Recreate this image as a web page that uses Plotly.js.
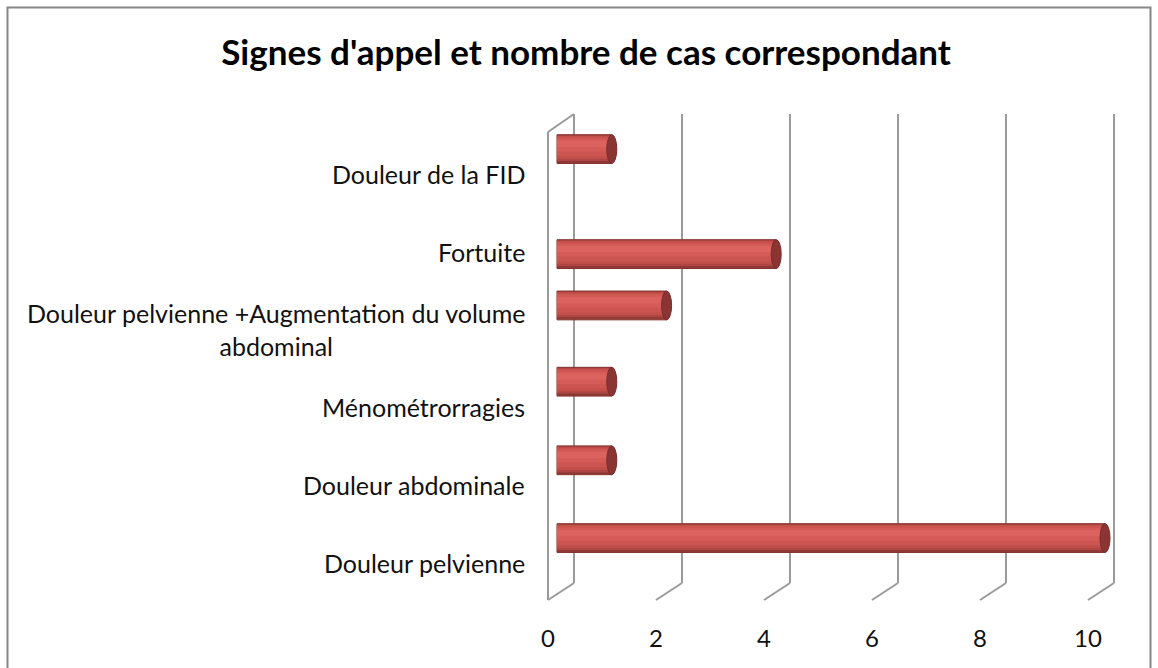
<!DOCTYPE html>
<html>
<head>
<meta charset="utf-8">
<script src="https://cdn.plot.ly/plotly-3.0.1.min.js"></script>
<style>html,body{margin:0;padding:0;background:#fff;}#chart{width:1158px;height:668px;}</style>
</head>
<body>
<div id="chart"></div>
<script>
// ---- data (bottom to top) ----
const categories = [
  "Douleur pelvienne",
  "Douleur abdominale",
  "Ménométrorragies",
  "Douleur pelvienne +Augmentation du volume<br>abdominal",
  "Fortuite",
  "Douleur de la FID"
];
const cases = [10, 1, 1, 2, 4, 1];
const xTicks = [0, 2, 4, 6, 8, 10];
const chartTitle = "Signes d'appel et nombre de cas correspondant";

// ---- style ----
const FONT = "Lato, 'Open Sans', sans-serif";
const barShift = [0.32, 0.32, 0.33, 0.31, -0.03, 0.32]; // perspective offset of each bar from its label
const W = 590, H = 485; // plot area pixel size
const idx = categories.map((c, i) => i);

function layer(width, dy, color, lineColor) {
  return {
    type: 'bar', orientation: 'h',
    x: cases, y: idx,
    width: width,
    offset: barShift.map(s => s + dy - width / 2),
    marker: {color: color, line: {width: lineColor ? 1 : 0, color: lineColor || color}},
    hoverinfo: 'skip', showlegend: false
  };
}

const traces = [
  layer(0.37, 0, '#8f3835', '#86332f'),
  layer(0.33, 0.012, '#b04643'),
  layer(0.29, 0.022, '#c34f4b'),
  layer(0.24, 0.032, '#cd5551'),
  layer(0.16, 0.05, '#d45b57'),
  layer(0.08, 0.065, '#db625e'),
  // invisible trace to activate label axis
  {type: 'scatter', x: xTicks, y: xTicks.map(() => 0), xaxis: 'x2', mode: 'none', hoverinfo: 'skip', showlegend: false}
];

const shapes = [];
// outer chart border
shapes.push({type: 'rect', xref: 'paper', yref: 'paper',
  x0: (7.5 - 540) / W, x1: (1150.5 - 540) / W, y0: (600 - 700) / H, y1: (600 - 7.5) / H,
  line: {color: '#868686', width: 2}, fillcolor: 'rgba(0,0,0,0)', layer: 'below'});
const yFloorBack = (600 - 583) / H, yTop = (600 - 114) / H, yLeftTop = (600 - 132) / H;
// left wall
shapes.push({type: 'line', xref: 'x2', yref: 'paper', x0: 0, x1: 0, y0: 0, y1: yLeftTop,
  line: {color: '#9a9a9a', width: 2}, layer: 'below'});
shapes.push({type: 'line', xref: 'x2', xsizemode: 'pixel', xanchor: 0, yref: 'paper', x0: 0, x1: 26, y0: yLeftTop, y1: yTop,
  line: {color: '#9a9a9a', width: 2}, layer: 'below'});
// back wall gridlines + floor diagonals
xTicks.forEach(v => {
  shapes.push({type: 'line', xref: 'x2', xsizemode: 'pixel', xanchor: v, yref: 'paper', x0: 26, x1: 26, y0: yFloorBack, y1: yTop,
    line: {color: '#9a9a9a', width: 2}, layer: 'below'});
  shapes.push({type: 'line', xref: 'x2', xsizemode: 'pixel', xanchor: v, yref: 'paper', x0: 0, x1: 26, y0: 0, y1: yFloorBack,
    line: {color: '#9a9a9a', width: 2}, layer: 'below'});
});
// cylinder end caps
cases.forEach((v, i) => {
  shapes.push({type: 'circle', xref: 'x', yref: 'y', xsizemode: 'pixel', xanchor: v,
    x0: -5, x1: 5, y0: i + barShift[i] - 0.185, y1: i + barShift[i] + 0.185,
    fillcolor: '#8a3533', line: {color: '#7a2c2a', width: 1}, layer: 'above'});
});

// category labels (right-aligned block, centred lines)
const annotations = categories.map((c, i) => ({
  xref: 'paper', yref: 'y', x: 0, y: i, xshift: -13,
  xanchor: 'right', yanchor: 'middle', align: 'center',
  text: c, showarrow: false,
  font: {family: FONT, size: 25, color: '#111'}
}));

const layout = {
  width: 1158, height: 668,
  margin: {l: 540, r: 28, t: 115, b: 68, pad: 0},
  paper_bgcolor: '#fff', plot_bgcolor: 'rgba(0,0,0,0)',
  barmode: 'overlay',
  title: {text: '<b>' + chartTitle + '</b>', font: {family: FONT, size: 35, color: '#000'},
    x: 586 / 1158, xref: 'container', xanchor: 'center', y: 1 - 53 / 668, yref: 'container', yanchor: 'middle'},
  xaxis: {range: [-0.31, 10.456], showgrid: false, zeroline: false, showline: false, showticklabels: false, fixedrange: true},
  xaxis2: {overlaying: 'x', side: 'bottom', anchor: 'y', range: [-0.148, 10.778], tickvals: xTicks,
    showgrid: false, zeroline: false, showline: false, ticks: '', ticklabelstandoff: 22,
    tickfont: {family: FONT, size: 24, color: '#111'}},
  yaxis: {range: [-0.476, 5.758], showgrid: false, zeroline: false, showline: false, showticklabels: false, fixedrange: true},
  shapes: shapes,
  annotations: annotations
};

Plotly.newPlot('chart', traces, layout, {displayModeBar: false, staticPlot: true});
</script>
</body>
</html>
